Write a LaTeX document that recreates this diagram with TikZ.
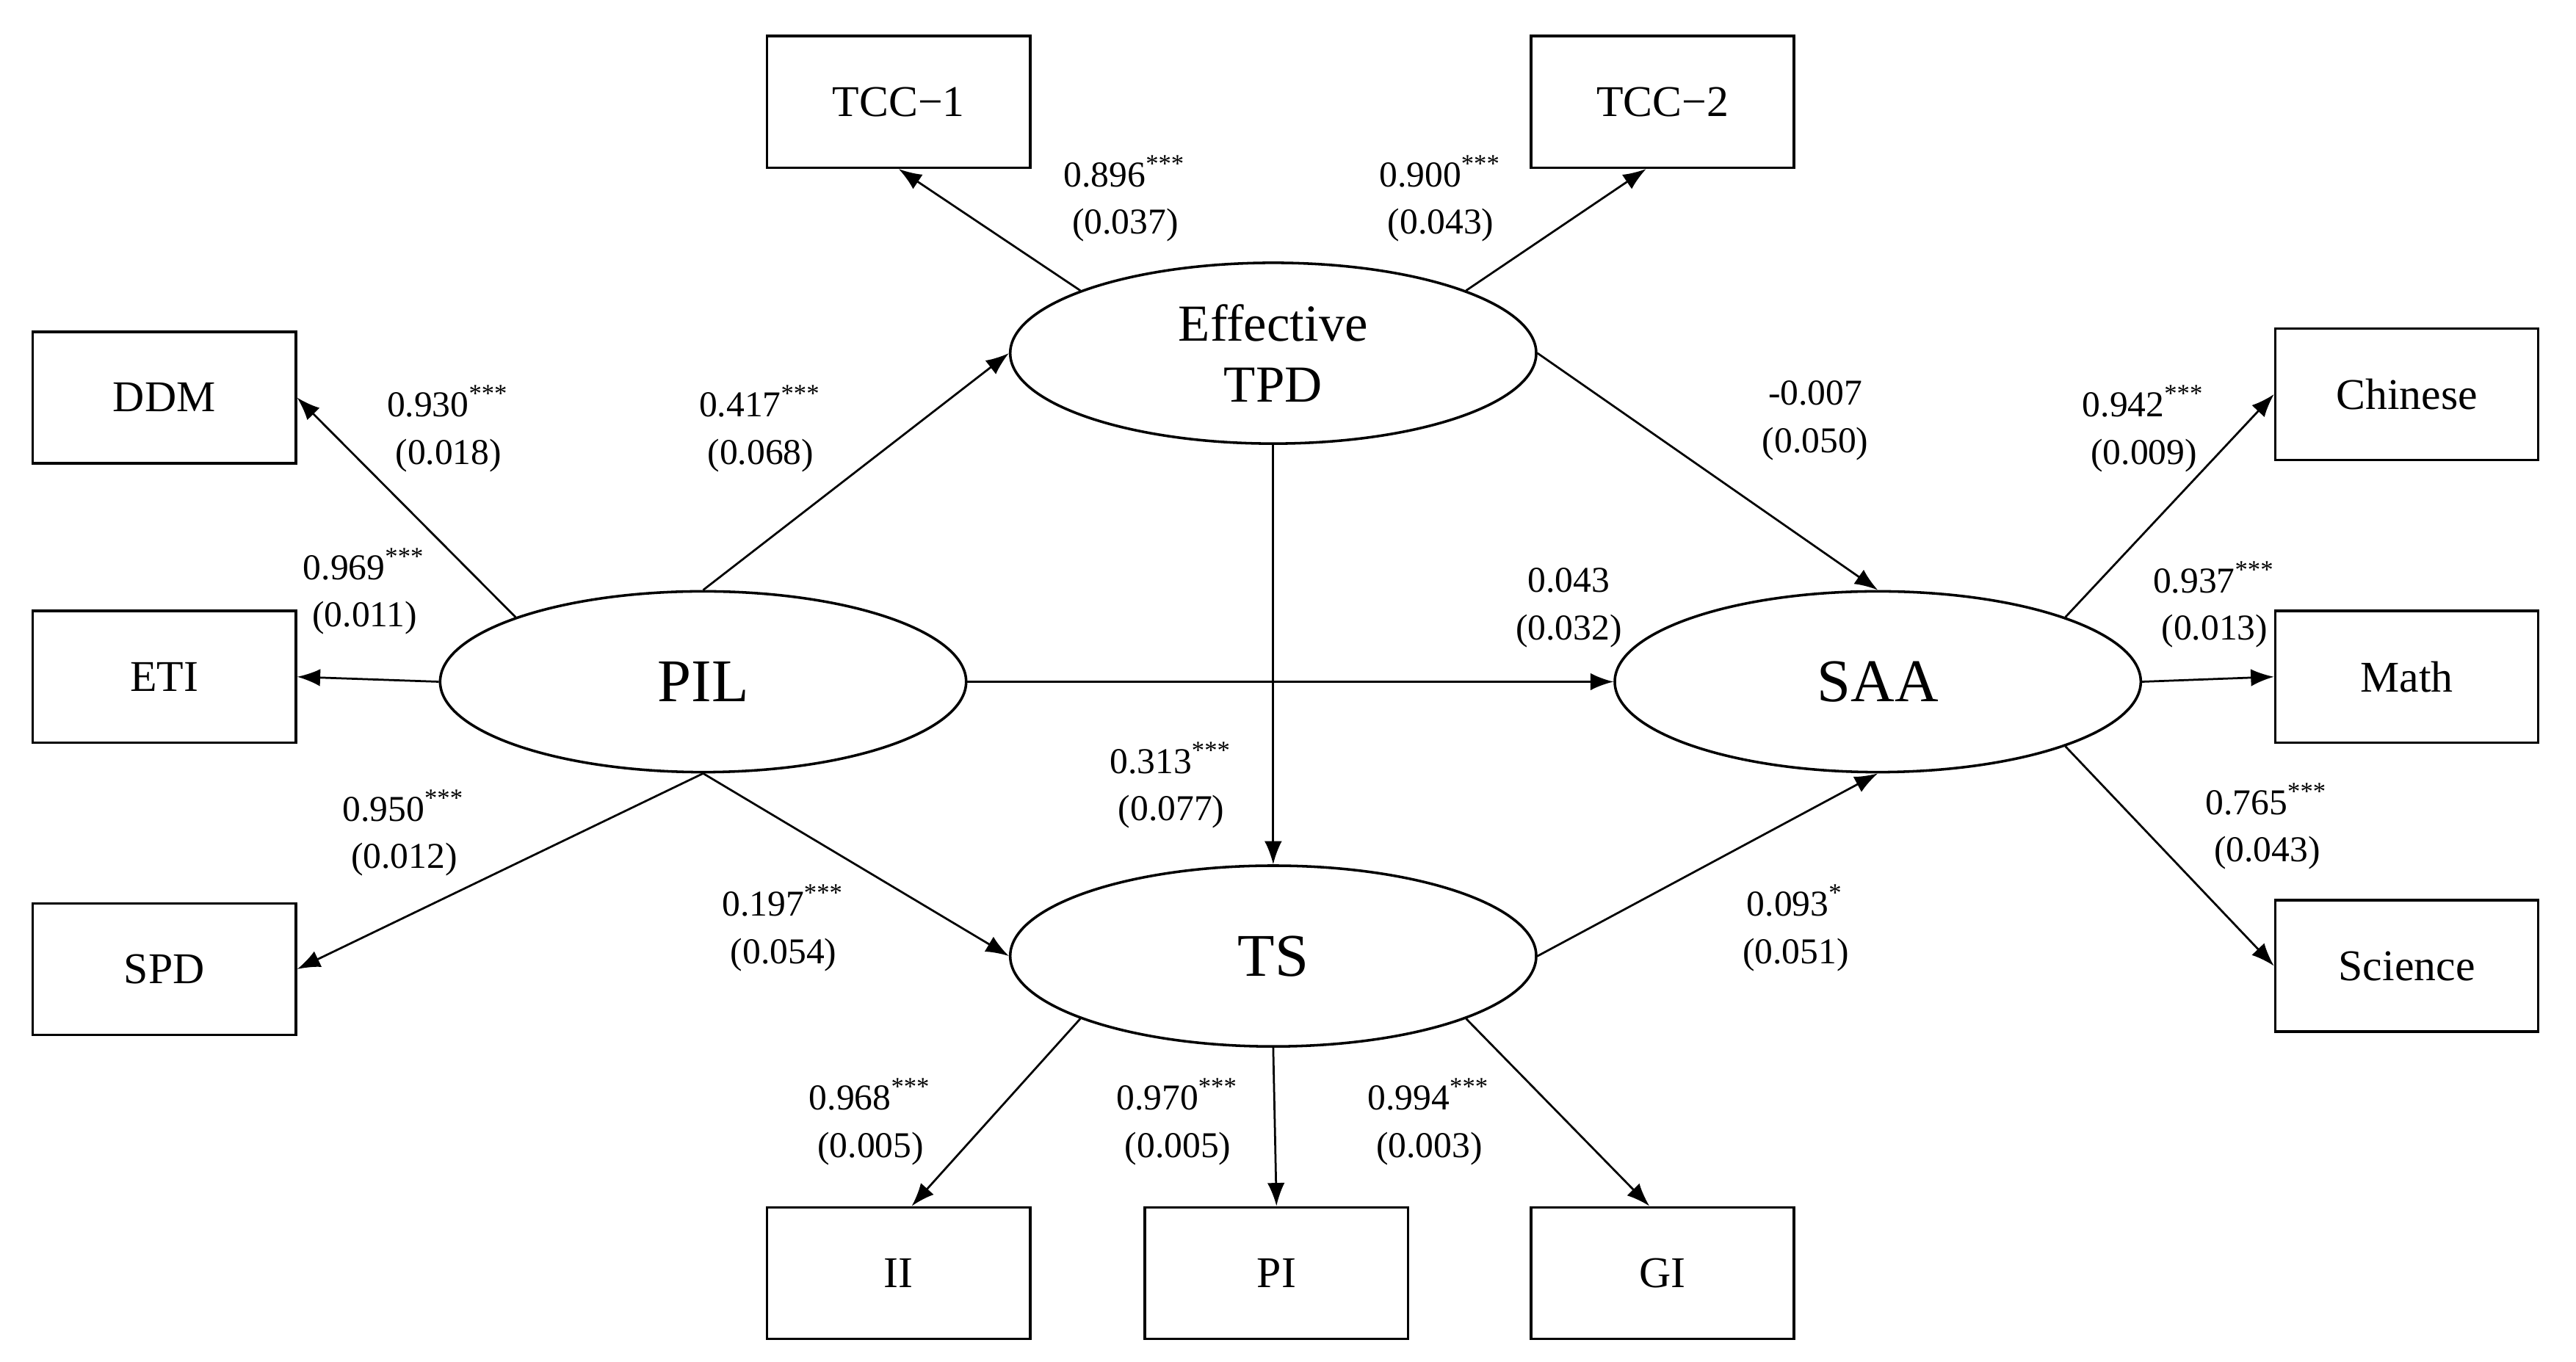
\documentclass[tikz,border=0pt]{standalone}
\usepackage{fontspec}
\setmainfont{Liberation Serif}
\usetikzlibrary{shapes.geometric,arrows.meta}
\begin{document}
\begin{tikzpicture}[x=0.01cm,y=-0.01cm,
  box/.style={draw,line width=0.45pt,minimum width=1.6cm,minimum height=0.8cm,inner sep=0pt,font=\fontsize{7.6}{9}\selectfont},
  lat/.style={draw,ellipse,line width=0.45pt,minimum width=3.2cm,minimum height=1.1cm,inner sep=0pt},
  arr/.style={-{Latex[length=4pt,width=3pt]},line width=0.35pt},
  lab/.style={align=center,inner sep=0pt,font=\fontsize{6.3}{8.2}\selectfont}]
\useasboundingbox (0,0) rectangle (1568,829);
\newcommand{\st}[1]{\textsuperscript{#1}}
% boxes
\node[box] (tcc1) at (547,62) {TCC−1};
\node[box] (tcc2) at (1012,62) {TCC−2};
\node[box] (ddm) at (100,242) {DDM};
\node[box] (eti) at (100,412) {ETI};
\node[box] (spd) at (100,590) {SPD};
\node[box] (chi) at (1465,240) {Chinese};
\node[box] (math) at (1465,412) {Math};
\node[box] (sci) at (1465,588) {Science};
\node[box] (ii) at (547,775) {II};
\node[box] (pi) at (777,775) {PI};
\node[box] (gi) at (1012,775) {GI};
% latent
\node[lat,font=\fontsize{9}{10.5}\selectfont,align=center] (tpd) at (775,215) {Effective\\TPD};
\node[lat,font=\fontsize{10.5}{12}\selectfont] (pil) at (428,415) {PIL};
\node[lat,font=\fontsize{10.5}{12}\selectfont] (saa) at (1143,415) {SAA};
\node[lat,font=\fontsize{10.5}{12}\selectfont] (ts) at (775,582) {TS};
% arrows
\draw[arr] (tpd.162) -- (tcc1.south);
\draw[arr] (tpd.18) -- ([xshift=-0.1cm]tcc2.south);
\draw[arr] (pil.161) -- (ddm.east);
\draw[arr] (pil.west) -- (eti.east);
\draw[arr] (pil.south) -- (spd.east);
\draw[arr] (pil.north) -- (tpd.west);
\draw[arr] (pil.south) -- (ts.west);
\draw[arr] (pil.east) -- (saa.west);
\draw[arr] (tpd.east) -- (saa.north);
\draw[arr] (tpd.south) -- (ts.north);
\draw[arr] (ts.east) -- (saa.south);
\draw[arr] (ts.198) -- ([xshift=0.08cm]ii.north);
\draw[arr] (ts.south) -- (pi.north);
\draw[arr] (ts.-18) -- ([xshift=-0.08cm]gi.north);
\draw[arr] (saa.19) -- (chi.west);
\draw[arr] (saa.east) -- (math.west);
\draw[arr] (saa.-19) -- (sci.west);
% labels
\node[lab] (l1) at (685,121) {0.896\st{***}\\(0.037)};
\node[lab] (l2) at (877,121) {0.900\st{***}\\(0.043)};
\node[lab] (l3) at (273,261) {0.930\st{***}\\(0.018)};
\node[lab] (l4) at (463,261) {0.417\st{***}\\(0.068)};
\node[lab] (l5) at (1105,256) {-0.007\\(0.050)};
\node[lab] (l6) at (1305,261) {0.942\st{***}\\(0.009)};
\node[lab] (l7) at (222,360) {0.969\st{***}\\(0.011)};
\node[lab] (l8) at (955,370) {0.043\\(0.032)};
\node[lab] (l9) at (1348,368) {0.937\st{***}\\(0.013)};
\node[lab] (l10) at (246,507) {0.950\st{***}\\(0.012)};
\node[lab] (l11) at (713,478) {0.313\st{***}\\(0.077)};
\node[lab] (l12) at (1380,503) {0.765\st{***}\\(0.043)};
\node[lab] (l13) at (477,565) {0.197\st{***}\\(0.054)};
\node[lab] (l14) at (1093,565) {0.093\st{*}\\(0.051)};
\node[lab] (l15) at (530,683) {0.968\st{***}\\(0.005)};
\node[lab] (l16) at (717,683) {0.970\st{***}\\(0.005)};
\node[lab] (l17) at (870,683) {0.994\st{***}\\(0.003)};
\end{tikzpicture}
\end{document}
